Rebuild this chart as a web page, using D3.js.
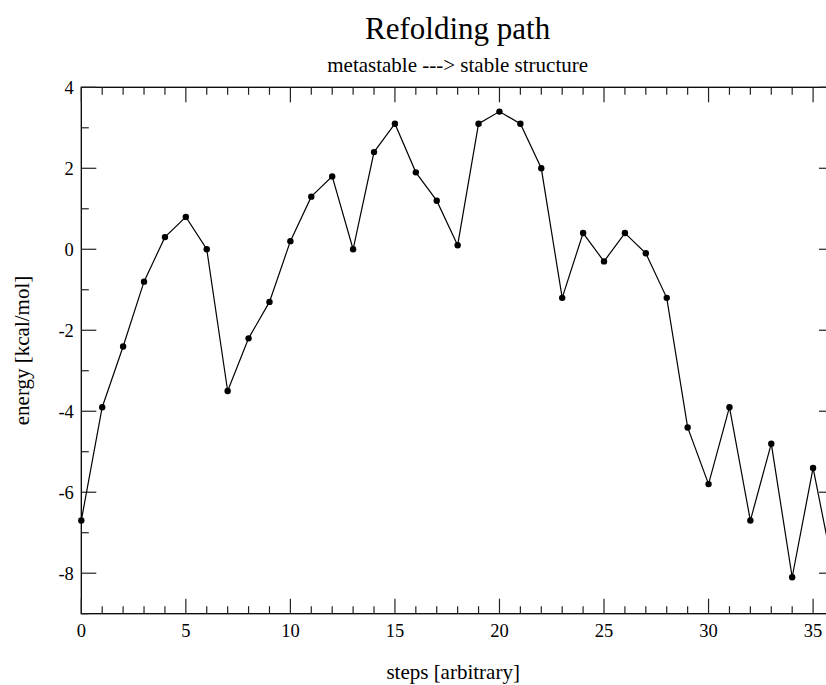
<!DOCTYPE html>
<html>
<head>
<meta charset="utf-8">
<script src="https://cdn.jsdelivr.net/npm/d3@7"></script>
<style>
  html, body { margin: 0; padding: 0; background: #fff; overflow: hidden; }
  svg { display: block; }
  text { font-family: "Liberation Serif", "Times New Roman", serif; fill: #000; }
</style>
</head>
<body>
<script>
// Refolding path: energy along the metastable -> stable transition
const steps = [0,1,2,3,4,5,6,7,8,9,10,11,12,13,14,15,16,17,18,19,20,21,22,23,24,25,26,27,28,29,30,31,32,33,34,35,36];
const energy = [-6.7,-3.9,-2.4,-0.8,0.3,0.8,0.0,-3.5,-2.2,-1.3,0.2,1.3,1.8,0.0,2.4,3.1,1.9,1.2,0.1,3.1,3.4,3.1,2.0,-1.2,0.4,-0.3,0.4,-0.1,-1.2,-4.4,-5.8,-3.9,-6.7,-4.8,-8.1,-5.4,-8.0];
const xMajorTicks = [0,5,10,15,20,25,30,35];
const yMajorTicks = [-8,-6,-4,-2,0,2,4];
const titleText = "Refolding path";
const subtitleText = "metastable ---> stable structure";
const xLabel = "steps [arbitrary]";
const yLabel = "energy [kcal/mol]";

const W = 826, H = 685;
const plotL = 81.3, plotR = 834, plotT = 87.3, plotB = 613.7;

const svg = d3.select("body").append("svg").attr("width", W).attr("height", H);

const x = d3.scaleLinear().domain([0, 36]).range([plotL, plotR]);
const y = d3.scaleLinear().domain([-9, 4]).range([plotB, plotT]);

const major = 15, minor = 7.5;
const tickColor = "#222";

// frame
svg.append("rect")
  .attr("x", plotL).attr("y", plotT)
  .attr("width", plotR - plotL).attr("height", plotB - plotT)
  .attr("fill", "none").attr("stroke", "#000").attr("stroke-width", 1.3);

const xMinor = d3.range(0, 37, 1).filter(v => v % 5 !== 0);
const yMinor = d3.range(-9, 5, 1).filter(v => v % 2 !== 0);

const ticks = svg.append("g").attr("stroke", tickColor).attr("stroke-width", 1.2);
// x ticks, bottom and top, pointing inward
xMajorTicks.concat(xMinor).forEach(v => {
  const len = xMajorTicks.includes(v) ? major : minor;
  ticks.append("line").attr("x1", x(v)).attr("x2", x(v)).attr("y1", plotB).attr("y2", plotB - len);
  ticks.append("line").attr("x1", x(v)).attr("x2", x(v)).attr("y1", plotT).attr("y2", plotT + len);
});
// y ticks, left and right, pointing inward
yMajorTicks.concat(yMinor).forEach(v => {
  const len = yMajorTicks.includes(v) ? major : minor;
  ticks.append("line").attr("y1", y(v)).attr("y2", y(v)).attr("x1", plotL).attr("x2", plotL + len);
  ticks.append("line").attr("y1", y(v)).attr("y2", y(v)).attr("x1", plotR).attr("x2", plotR - len);
});

// tick labels
svg.append("g").selectAll("text").data(xMajorTicks).join("text")
  .attr("x", d => x(d)).attr("y", plotB + 23.5)
  .attr("text-anchor", "middle").attr("font-size", 18.5)
  .text(d => d);
svg.append("g").selectAll("text").data(yMajorTicks).join("text")
  .attr("x", plotL - 7.5).attr("y", d => y(d) + 6.5)
  .attr("text-anchor", "end").attr("font-size", 18.5)
  .text(d => d);

// titles
const cx = (plotL + plotR) / 2;
svg.append("text").attr("x", cx).attr("y", 39).attr("text-anchor", "middle")
  .attr("font-size", 31).text(titleText);
svg.append("text").attr("x", cx).attr("y", 72).attr("text-anchor", "middle")
  .attr("font-size", 21).text(subtitleText);
svg.append("text").attr("x", cx - 4.5).attr("y", 679).attr("text-anchor", "middle")
  .attr("font-size", 21).text(xLabel);
svg.append("text")
  .attr("transform", `translate(29,${(plotT + plotB) / 2}) rotate(-90)`)
  .attr("text-anchor", "middle").attr("font-size", 21).text(yLabel);

// data line and markers
const pts = steps.map((s, i) => [s, energy[i]]);
svg.append("path").datum(pts)
  .attr("fill", "none").attr("stroke", "#000").attr("stroke-width", 1.2)
  .attr("d", d3.line().x(d => x(d[0])).y(d => y(d[1])));
svg.append("g").selectAll("circle").data(pts).join("circle")
  .attr("cx", d => x(d[0])).attr("cy", d => y(d[1])).attr("r", 3.2).attr("fill", "#000");
</script>
</body>
</html>
